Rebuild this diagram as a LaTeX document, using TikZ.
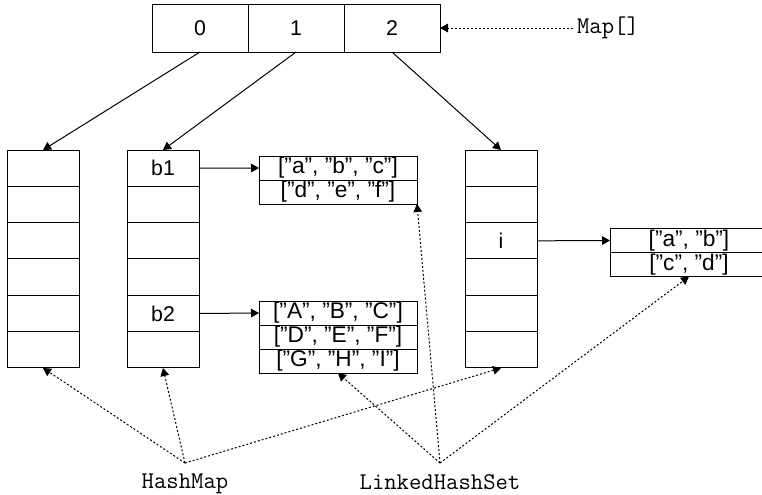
\documentclass[tikz,border=0pt]{standalone}
\usepackage{fontspec}
\setmainfont{Liberation Sans}
\usetikzlibrary{arrows.meta,positioning}

\begin{document}
\begin{tikzpicture}[
  x=0.75pt,y=-0.75pt,>={Triangle[length=6pt,width=6.5pt]},
  line width=0.75pt,
  mapcell/.style={draw,rectangle,minimum width=72pt,minimum height=36pt,
    inner sep=0pt,outer sep=0pt,font=\fontsize{16}{18}\selectfont},
  bucket/.style={draw,rectangle,minimum width=54pt,minimum height=27.25pt,
    inner sep=0pt,outer sep=0pt,font=\fontsize{16}{18}\selectfont},
  setrow/.style={draw,rectangle,minimum width=118.5pt,minimum height=18pt,
    inner sep=0pt,outer sep=0pt,font=\fontsize{17}{18}\selectfont},
  typename/.style={font=\ttfamily\fontsize{18}{20}\selectfont,inner sep=3pt},
  ref/.style={->,dash pattern=on 1.5pt off 1.5pt}
]
  \useasboundingbox (0,0) rectangle (762,494);

  % the Map[] array on top
  \foreach \i/\x in {0/200,1/296,2/392}
    \node[mapcell] (map\i) at (\x,28) {\i};
  \node[typename] (mapName) at (608,28) {Map[]};
  \draw[ref] (mapName) -- (map2);

  % three HashMap tables
  \foreach \r/\t in {1/,2/,3/,4/,5/,6/}
    \node[bucket] (tA\r) at (43,{131.83+36.33*\r}) {\t};
  \foreach \r/\t in {1/b1,2/,3/,4/,5/b2,6/}
    \node[bucket] (tB\r) at (163,{131.83+36.33*\r}) {\t};
  \foreach \r/\t in {1/,2/,3/i,4/,5/,6/}
    \node[bucket] (tC\r) at (501,{131.83+36.33*\r}) {\t};

  \draw[->] (map0.south) -- (tA1.north);
  \draw[->] (map1.south) -- (tB1.north);
  \draw[->] (map2.south) -- (tC1.north);

  % LinkedHashSet buckets
  \node[setrow] (s1a) at (338,168) {["a", "b", "c"]};
  \node[setrow,below=0pt of s1a] (s1b) {["d", "e", "f"]};

  \node[setrow] (s2a) at (338,313) {["A", "B", "C"]};
  \node[setrow,below=0pt of s2a] (s2b) {["D", "E", "F"]};
  \node[setrow,below=0pt of s2b] (s2c) {["G", "H", "I"]};

  \node[setrow] (s3a) at (689,240.5) {["a", "b"]};
  \node[setrow,below=0pt of s3a] (s3b) {["c", "d"]};

  \draw[->] (tB1.east) -- (s1a.west);
  \draw[->] (tB5.east) -- (s2a.west);
  \draw[->] (tC3.east) -- (s3a.west);

  % type labels
  \coordinate (hmJoin) at (185,463);
  \node[typename,below=5pt of hmJoin] (hmName) {HashMap};
  \coordinate (lhsJoin) at (440,463);
  \node[typename,below=5pt of lhsJoin] (lhsName) {LinkedHashSet};

  \foreach \t in {tA6,tB6,tC6}
    \draw[ref] (hmJoin) -- (\t.south);
  \draw[ref] (lhsJoin) -- (s2c.south);
  \draw[ref] (lhsJoin) -- (s1b.south east);
  \draw[ref] (lhsJoin) -- (s3b.south);
\end{tikzpicture}
\end{document}
